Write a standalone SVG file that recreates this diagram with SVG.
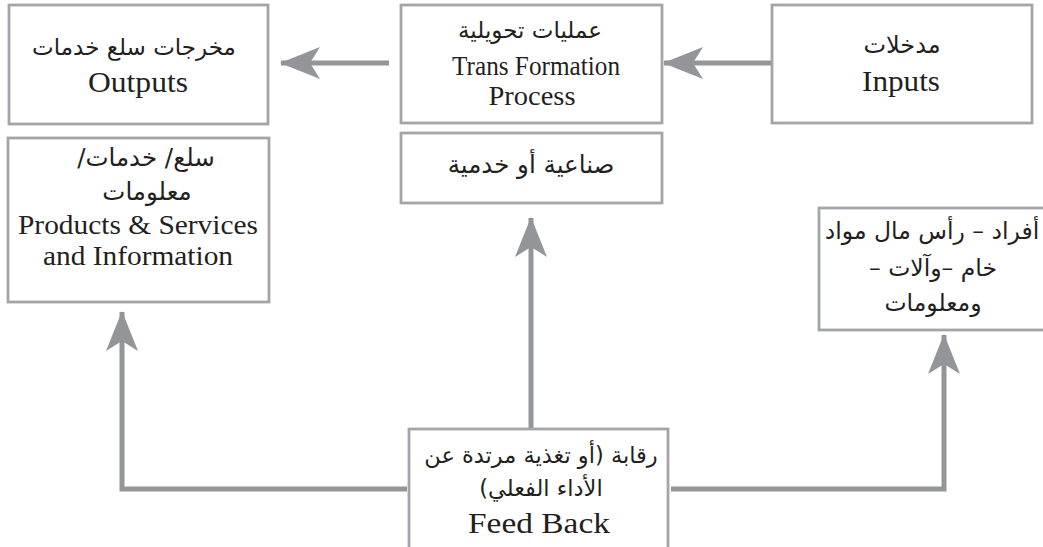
<svg xmlns="http://www.w3.org/2000/svg" width="1043" height="547" viewBox="0 0 1043 547">
<style>
.box{fill:#fff;stroke:#a3a5a8;stroke-width:2.8}
.en{font-family:"Liberation Serif","Times New Roman",serif;font-size:27px;fill:#231f20;text-anchor:middle}
.ar{font-family:"DejaVu Sans","Noto Sans",sans-serif;font-size:23.5px;fill:#231f20;text-anchor:middle}
.con{fill:none;stroke:#939598;stroke-width:5}
</style>
<defs>
<marker id="ah" viewBox="0 0 40 34" refX="39" refY="17" markerWidth="40" markerHeight="34" markerUnits="userSpaceOnUse" orient="auto">
<path d="M0,1 L40,17 L0,33 L10,17 Z" fill="#939598"/>
</marker>
</defs>
<rect width="1043" height="547" fill="#fff"/>
<g id="connectors">
<line class="con" x1="772" y1="63" x2="664" y2="63" marker-end="url(#ah)"/>
<line class="con" x1="389" y1="63" x2="281" y2="63" marker-end="url(#ah)"/>
<path class="con" d="M407,489 H122 V312" marker-end="url(#ah)"/>
<path class="con" d="M531,429 V218" marker-end="url(#ah)"/>
<path class="con" d="M671,489 H944 V335" marker-end="url(#ah)"/>
</g>
<g id="outputs">
<rect class="box" x="9" y="5" width="259" height="119"/>
<text class="ar" x="134" y="55" direction="rtl" style="font-size:23px">مخرجات سلع خدمات</text>
<text class="en" x="138" y="92" style="font-size:30px" textLength="100" lengthAdjust="spacingAndGlyphs">Outputs</text>
</g>
<g id="transformation">
<rect class="box" x="401" y="5" width="261" height="118"/>
<text class="ar" x="530" y="38" direction="rtl" style="font-size:23px">عمليات تحويلية</text>
<text class="en" x="536" y="75" textLength="168" lengthAdjust="spacingAndGlyphs">Trans Formation</text>
<text class="en" x="532" y="105" textLength="87" lengthAdjust="spacingAndGlyphs">Process</text>
</g>
<g id="inputs">
<rect class="box" x="772" y="5" width="260" height="118"/>
<text class="ar" x="902" y="53" direction="rtl" style="font-size:24px">مدخلات</text>
<text class="en" x="901" y="91" style="font-size:30px" textLength="78" lengthAdjust="spacingAndGlyphs">Inputs</text>
</g>
<g id="products">
<rect class="box" x="8" y="138" width="261" height="164"/>
<text class="ar" x="146" y="166" direction="rtl" style="font-size:24.5px">سلع/ خدمات/</text>
<text class="ar" x="147" y="200" direction="rtl" style="font-size:24.5px">معلومات</text>
<text class="en" x="138" y="234" textLength="240" lengthAdjust="spacingAndGlyphs">Products &amp; Services</text>
<text class="en" x="138" y="265" textLength="190" lengthAdjust="spacingAndGlyphs">and Information</text>
</g>
<g id="industrial">
<rect class="box" x="401" y="133" width="261" height="70"/>
<text class="ar" x="531" y="173" direction="rtl" style="font-size:24.5px">صناعية أو خدمية</text>
</g>
<g id="resources">
<rect class="box" x="819" y="208" width="230" height="122"/>
<text class="ar" x="932" y="239" direction="rtl">أفراد – رأس مال مواد</text>
<text class="ar" x="933" y="276" direction="rtl">خام –وآلات –</text>
<text class="ar" x="933" y="311" direction="rtl">ومعلومات</text>
</g>
<g id="feedback">
<rect class="box" x="409" y="429" width="259" height="120"/>
<text class="ar" x="541" y="463" direction="rtl" style="font-size:22.5px">رقابة (أو تغذية مرتدة عن</text>
<text class="ar" x="541" y="496" direction="rtl" style="font-size:22.5px">الأداء الفعلي)</text>
<text class="en" x="539" y="533" style="font-size:29px" textLength="142" lengthAdjust="spacingAndGlyphs">Feed Back</text>
</g>
</svg>
